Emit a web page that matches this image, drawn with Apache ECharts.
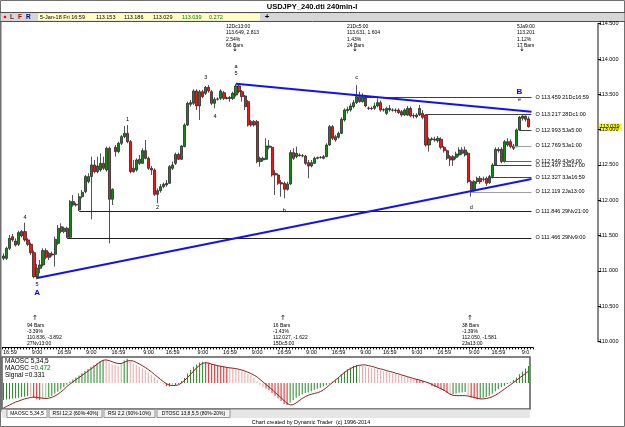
<!DOCTYPE html>
<html>
<head>
<meta charset="utf-8">
<title>USDJPY_240.dti 240min-I</title>
<script src="https://cdn.jsdelivr.net/npm/echarts@6/dist/echarts.min.js"></script>
<style>
  html, body { margin: 0; padding: 0; background: #fff; }
  #chart { width: 625px; height: 427px; }
</style>
</head>
<body>
<div id="chart"></div>
<script>
// 240-minute bars, 27 Nov 2017 .. 5 Jan 2018 (175 bars)
const opens = [
  111.177, 111.177, 111.319, 111.484, 111.422, 111.375, 111.493, 111.555, 111.437, 111.375,
  111.257, 110.917, 111.035, 111.083, 111.286, 111.191, 111.238, 111.234, 111.389, 111.625,
  111.555, 111.602, 111.474, 111.980, 111.932, 111.862, 112.050, 112.121, 112.263, 112.334,
  112.499, 112.404, 112.428, 112.522, 112.428, 112.735, 112.013, 112.749, 112.688, 112.806,
  112.900, 112.947, 112.829, 112.404, 112.428, 112.522, 112.522, 112.702, 112.593, 112.452,
  112.428, 112.083, 112.135, 112.192, 112.216, 112.239, 112.452, 112.522, 112.650, 112.579,
  112.759, 113.065, 113.358, 113.372, 113.547, 113.335, 113.537, 113.514, 113.599, 113.537,
  113.372, 113.429, 113.443, 113.523, 113.443, 113.443, 113.443, 113.490, 113.618, 113.537,
  113.476, 113.396, 113.065, 113.113, 113.113, 112.546, 112.570, 112.579, 112.768, 112.749,
  112.381, 112.357, 112.230, 112.239, 112.154, 112.230, 112.674, 112.617, 112.641, 112.631,
  112.626, 112.532, 112.485, 112.522, 112.593, 112.603, 112.593, 112.617, 112.782, 113.042,
  112.900, 112.891, 112.947, 113.136, 113.268, 113.278, 113.325, 113.382, 113.467, 113.396,
  113.450, 113.301, 113.301, 113.301, 113.335, 113.382, 113.278, 113.231, 113.278, 113.278,
  113.278, 113.278, 113.254, 113.207, 113.207, 113.301, 113.193, 113.183, 113.207, 113.231,
  113.207, 112.782, 112.862, 112.853, 112.843, 112.862, 112.749, 112.702, 112.617, 112.570,
  112.607, 112.641, 112.664, 112.641, 112.664, 112.263, 112.135, 112.263, 112.310, 112.296,
  112.310, 112.249, 112.334, 112.499, 112.702, 112.721, 112.546, 112.782, 112.829, 112.768,
  112.759, 112.995, 113.160, 113.193, 113.153
];
const highs = [
  111.248, 111.342, 111.507, 111.522, 111.460, 111.569, 111.578, 111.682, 111.460, 111.399,
  111.286, 111.097, 111.153, 111.319, 111.319, 111.271, 111.271, 111.484, 111.649, 111.673,
  111.625, 111.625, 112.003, 112.074, 111.965, 112.098, 112.145, 112.357, 112.381, 112.617,
  112.570, 112.617, 112.664, 112.617, 112.759, 112.759, 112.168, 112.782, 112.829, 112.924,
  113.051, 113.065, 112.853, 112.570, 112.593, 112.641, 112.735, 112.853, 112.617, 112.485,
  112.452, 112.168, 112.230, 112.249, 112.286, 112.499, 112.546, 112.674, 112.674, 112.782,
  113.089, 113.396, 113.419, 113.571, 113.571, 113.561, 113.561, 113.618, 113.632, 113.561,
  113.457, 113.457, 113.571, 113.547, 113.467, 113.476, 113.537, 113.649, 113.632, 113.561,
  113.490, 113.419, 113.136, 113.136, 113.136, 112.617, 112.617, 112.877, 112.853, 112.768,
  112.428, 112.381, 112.286, 112.263, 112.263, 112.711, 112.735, 112.759, 112.664, 112.655,
  112.641, 112.570, 112.570, 112.617, 112.617, 112.626, 112.641, 112.806, 113.065, 113.065,
  112.924, 112.971, 113.174, 113.301, 113.325, 113.372, 113.419, 113.631, 113.537, 113.514,
  113.459, 113.325, 113.325, 113.382, 113.443, 113.410, 113.301, 113.325, 113.349, 113.301,
  113.301, 113.301, 113.278, 113.301, 113.335, 113.325, 113.231, 113.231, 113.349, 113.278,
  113.217, 112.891, 112.891, 112.900, 112.910, 112.891, 112.768, 112.721, 112.641, 112.641,
  112.688, 112.749, 112.749, 112.759, 112.688, 112.286, 112.286, 112.334, 112.343, 112.334,
  112.334, 112.357, 112.522, 112.749, 112.749, 112.749, 112.853, 112.877, 112.862, 112.796,
  113.018, 113.193, 113.201, 113.193, 113.186
];
const lows = [
  111.153, 111.153, 111.295, 111.413, 111.342, 111.352, 111.474, 111.413, 111.352, 111.224,
  110.894, 110.880, 110.965, 111.059, 111.163, 111.153, 111.201, 111.059, 111.366, 111.531,
  111.531, 111.465, 111.460, 111.909, 111.909, 111.847, 112.027, 112.098, 112.239, 111.729,
  112.381, 112.381, 112.404, 112.428, 112.404, 111.389, 111.932, 112.617, 112.664, 112.782,
  112.877, 112.806, 112.381, 112.390, 112.404, 112.499, 112.513, 112.579, 112.428, 112.357,
  112.060, 111.956, 112.107, 112.168, 112.192, 112.230, 112.428, 112.499, 112.570, 112.570,
  112.749, 113.051, 113.325, 113.349, 113.278, 113.136, 113.443, 113.490, 113.523, 113.349,
  113.301, 113.410, 113.419, 113.419, 113.429, 113.396, 113.419, 113.467, 113.514, 113.396,
  113.278, 113.042, 113.042, 113.042, 112.522, 112.475, 112.546, 112.570, 112.721, 112.334,
  112.074, 112.216, 112.050, 112.027, 112.135, 112.216, 112.570, 112.593, 112.617, 112.607,
  112.499, 112.310, 112.466, 112.513, 112.579, 112.589, 112.579, 112.607, 112.768, 112.853,
  112.829, 112.872, 112.938, 113.113, 113.231, 113.254, 113.301, 113.363, 113.382, 113.382,
  113.316, 113.278, 113.278, 113.278, 113.316, 113.254, 113.254, 113.207, 113.254, 113.254,
  113.240, 113.221, 113.183, 113.193, 113.193, 113.174, 113.160, 113.160, 113.193, 113.146,
  112.759, 112.688, 112.843, 112.829, 112.815, 112.721, 112.674, 112.570, 112.485, 112.485,
  112.579, 112.617, 112.641, 112.617, 112.239, 112.050, 112.107, 112.230, 112.230, 112.263,
  112.202, 112.230, 112.310, 112.485, 112.674, 112.522, 112.532, 112.759, 112.735, 112.711,
  112.749, 112.985, 113.127, 113.113, 113.029
];
const closes = [
  111.210, 111.319, 111.460, 111.437, 111.366, 111.541, 111.555, 111.437, 111.375, 111.257,
  110.917, 111.035, 111.083, 111.286, 111.191, 111.248, 111.224, 111.446, 111.602, 111.555,
  111.602, 111.474, 111.980, 111.932, 111.942, 112.050, 112.112, 112.334, 112.334, 112.499,
  112.404, 112.485, 112.522, 112.452, 112.735, 112.013, 112.154, 112.688, 112.806, 112.900,
  112.947, 112.829, 112.404, 112.452, 112.570, 112.579, 112.702, 112.593, 112.452, 112.428,
  112.083, 112.135, 112.192, 112.225, 112.239, 112.475, 112.499, 112.650, 112.579, 112.768,
  113.065, 113.372, 113.382, 113.547, 113.335, 113.537, 113.467, 113.599, 113.547, 113.372,
  113.429, 113.434, 113.547, 113.443, 113.448, 113.453, 113.514, 113.618, 113.537, 113.467,
  113.325, 113.065, 113.113, 113.065, 112.546, 112.593, 112.593, 112.768, 112.749, 112.357,
  112.357, 112.239, 112.249, 112.154, 112.230, 112.674, 112.593, 112.664, 112.631, 112.626,
  112.522, 112.485, 112.532, 112.593, 112.603, 112.607, 112.617, 112.782, 113.042, 112.877,
  112.853, 112.947, 113.146, 113.278, 113.287, 113.335, 113.382, 113.467, 113.396, 113.467,
  113.335, 113.306, 113.298, 113.335, 113.382, 113.278, 113.283, 113.301, 113.301, 113.275,
  113.268, 113.240, 113.207, 113.278, 113.301, 113.193, 113.198, 113.207, 113.301, 113.174,
  112.782, 112.862, 112.867, 112.858, 112.877, 112.749, 112.702, 112.593, 112.570, 112.617,
  112.655, 112.711, 112.711, 112.711, 112.263, 112.135, 112.263, 112.310, 112.263, 112.301,
  112.239, 112.334, 112.499, 112.721, 112.721, 112.546, 112.829, 112.829, 112.759, 112.735,
  112.995, 113.174, 113.193, 113.146, 113.039
];

// MAOSC 5,34,5 histogram and its signal line
const maosc = [
  -0.47, -0.46, -0.45, -0.43, -0.42, -0.41, -0.39, -0.38, -0.36, -0.37,
  -0.41, -0.45, -0.47, -0.46, -0.43, -0.39, -0.35, -0.30, -0.24, -0.18,
  -0.12, -0.05, 0.04, 0.10, 0.15, 0.21, 0.27, 0.33, 0.39, 0.45,
  0.50, 0.55, 0.60, 0.64, 0.62, 0.56, 0.52, 0.50, 0.48, 0.53,
  0.62, 0.67, 0.60, 0.54, 0.49, 0.44, 0.40, 0.35, 0.29, 0.23,
  0.15, 0.08, 0.02, -0.04, -0.08, -0.10, -0.09, -0.06, -0.02, 0.05,
  0.14, 0.26, 0.36, 0.45, 0.51, 0.57, 0.59, 0.58, 0.56, 0.53,
  0.51, 0.49, 0.48, 0.46, 0.44, 0.42, 0.41, 0.39, 0.37, 0.34,
  0.30, 0.25, 0.20, 0.14, 0.05, -0.05, -0.11, -0.15, -0.20, -0.28,
  -0.35, -0.42, -0.50, -0.58, -0.61, -0.55, -0.48, -0.41, -0.35, -0.31,
  -0.28, -0.26, -0.23, -0.19, -0.16, -0.13, -0.10, -0.06, -0.02, 0.04,
  0.09, 0.16, 0.24, 0.32, 0.38, 0.43, 0.47, 0.50, 0.49, 0.47,
  0.45, 0.43, 0.41, 0.40, 0.38, 0.35, 0.33, 0.31, 0.29, 0.27,
  0.25, 0.23, 0.20, 0.19, 0.17, 0.14, 0.12, 0.11, 0.09, 0.06,
  0.01, -0.05, -0.08, -0.11, -0.13, -0.17, -0.22, -0.27, -0.31, -0.31,
  -0.29, -0.27, -0.26, -0.25, -0.33, -0.40, -0.43, -0.45, -0.43, -0.41,
  -0.39, -0.35, -0.30, -0.23, -0.17, -0.12, -0.08, -0.03, 0.02, 0.08,
  0.15, 0.24, 0.32, 0.40, 0.472
];
const signal = [
  -0.69, -0.65, -0.61, -0.57, -0.53, -0.50, -0.47, -0.44, -0.42, -0.40,
  -0.39, -0.40, -0.41, -0.42, -0.43, -0.42, -0.40, -0.36, -0.31, -0.25,
  -0.18, -0.10, -0.03, 0.03, 0.09, 0.15, 0.21, 0.27, 0.33, 0.39,
  0.45, 0.52, 0.58, 0.63, 0.64, 0.62, 0.59, 0.56, 0.54, 0.54,
  0.57, 0.61, 0.62, 0.61, 0.57, 0.53, 0.48, 0.43, 0.37, 0.31,
  0.24, 0.17, 0.10, 0.04, -0.02, -0.06, -0.07, -0.07, -0.05, 0.00,
  0.07, 0.15, 0.24, 0.33, 0.42, 0.49, 0.55, 0.56, 0.55, 0.52,
  0.50, 0.48, 0.46, 0.45, 0.43, 0.42, 0.41, 0.40, 0.38, 0.36,
  0.33, 0.30, 0.26, 0.22, 0.17, 0.10, 0.03, -0.04, -0.11, -0.18,
  -0.26, -0.33, -0.41, -0.49, -0.56, -0.61, -0.60, -0.55, -0.49, -0.43,
  -0.38, -0.34, -0.31, -0.29, -0.27, -0.24, -0.19, -0.13, -0.06, 0.01,
  0.08, 0.15, 0.22, 0.29, 0.35, 0.40, 0.44, 0.47, 0.49, 0.50,
  0.50, 0.48, 0.46, 0.44, 0.41, 0.39, 0.37, 0.34, 0.32, 0.30,
  0.27, 0.25, 0.22, 0.20, 0.17, 0.15, 0.12, 0.10, 0.08, 0.05,
  0.03, 0.00, -0.04, -0.08, -0.12, -0.16, -0.20, -0.25, -0.31, -0.34,
  -0.35, -0.35, -0.35, -0.35, -0.36, -0.38, -0.40, -0.42, -0.44, -0.44,
  -0.43, -0.41, -0.38, -0.34, -0.29, -0.23, -0.17, -0.11, -0.05, 0.01,
  0.07, 0.14, 0.20, 0.26, 0.331
];

// time axis labels (bar index -> text)
const timeTickIdx = [2, 11, 20, 29, 38, 48, 56, 66, 75, 84, 93, 102, 111, 120, 128, 137, 146, 156, 164, 173];
const timeTickText = ['16:59', '9:00', '16:59', '9:00', '16:59', '9:00', '16:59', '9:00', '16:59', '9:00',
  '16:59', '9:00', '16:59', '9:00', '16:59', '9:00', '16:59', '9:00', '16:59', '9:0'];

// horizontal levels: price, first bar, date tag
const levelPrices = [113.459, 113.217, 112.993, 112.769, 112.549, 112.497, 112.327, 112.119, 111.846, 111.466];
const levelStart = [119, 140, 171, 169, 166, 162, 161, 155, 25, 21];
const levelTags = ['21Dc16:59', '28Dc1:00', '5Ja5:00', '5Ja1:00', '4Ja9:00', '3Ja17:00', '3Ja16:59', '2Ja13:00', '29Nv21:00', '29Nv9:00'];

// blue trend lines: [barIndex, price] end points
const upperTrend = [[77, 113.649], [175, 113.254]];
const lowerTrend = [[11, 110.898], [175, 112.300]];

// wave labels: text, bar index, price
const waveText = ['4', '5', 'A', '1', '2', '3', '4', 'a', '5', 'b', 'c', 'd', 'B', 'e'];
const waveBar = [7, 11, 11, 41, 51, 67, 70, 77, 77, 93, 117, 155, 171, 171];
const wavePrice = [111.76, 110.81, 110.69, 113.14, 111.90, 113.745, 113.19, 113.90, 113.80, 111.86, 113.745, 111.90, 113.53, 113.42];

// swing annotations
const topNotes = [
  ['12Dc13:00', '113.649, 2.813', '2.54%', '66 Bars'],
  ['21Dc5:00', '113.631, 1.604', '1.43%', '24 Bars'],
  ['5Ja9:00', '113.201', '1.12%', '17 Bars']
];
const bottomNotes = [
  ['94 Bars', '-3.39%', '110.836, -3.892', '27Nv13:00'],
  ['16 Bars', '-1.43%', '112.027, -1.622', '15Dc5:00'],
  ['38 Bars', '-1.39%', '112.050, -1.581', '2Ja13:00']
];
const infoText = ['5-Jan-18 Fri 16:59', '113.153', '113.186', '113.029', '113.039', '0.272'];
const tabNames = ['MAOSC 5,34,5', 'RSI 12,2 (60%-40%)', 'RSI 2,2 (90%-10%)', 'DTOSC 13,8,5,5 (80%-20%)'];

const FONT = '"Liberation Sans", Arial, sans-serif';
const SLOTS = 176;
const cats = [];
for (let i = 0; i < SLOTS; i++) cats.push(String(i));

const candles = opens.map((o, i) => [o, closes[i], lows[i], highs[i]]);

// green when the oscillator rises, red when it falls; pale when it sits on the weak side of the signal
function histColor(i) {
  const v = maosc[i];
  const s = signal[i];
  const prev = i > 0 ? maosc[i - 1] : v;
  if (v >= prev) return v > s ? '#1f8a1f' : '#93c893';
  const strong = v >= 0 ? v > s : (v < s && s < 0);
  return strong ? '#f01818' : '#f7a0a0';
}

const levelShade = ['#404040', '#404040', '#404040', '#a0a0a0', '#606060', '#404040', '#404040', '#a0a0a0', '#202020', '#202020'];

const markLines = levelPrices.map((p, i) => [
  {
    coord: [levelStart[i], p],
    lineStyle: { color: levelShade[i], width: 1, type: 'solid' },
    label: {
      show: true, position: 'end', distance: 4,
      formatter: 'O ' + p.toFixed(3) + ' ' + levelTags[i],
      fontSize: 5.5, color: '#000', fontFamily: FONT
    }
  },
  { coord: [SLOTS - 1, p] }
]);
[upperTrend, lowerTrend].forEach(t => {
  markLines.push([
    { coord: t[0], lineStyle: { color: '#1010ff', width: 2, type: 'solid' }, label: { show: false } },
    { coord: t[1] }
  ]);
});

const markPoints = waveText.map((t, i) => {
  const big = t === 'A' || t === 'B';
  return {
    name: t,
    coord: [waveBar[i], wavePrice[i]],
    label: {
      show: true, formatter: t, position: 'inside',
      fontSize: big ? 8 : 5.5, fontWeight: big ? 'bold' : 'normal',
      color: big ? '#0000ff' : '#000', fontFamily: FONT
    }
  };
});
markPoints.push({
  name: 'mark', coord: [152, 112.711],
  label: { show: true, formatter: '+', position: 'inside', fontSize: 6, color: '#ff00ff' }
});

const chart = echarts.init(document.getElementById('chart'));

const option = {
  animation: false,
  backgroundColor: '#ffffff',
  textStyle: { fontFamily: FONT },
  grid: [
    { left: 2, width: 531, top: 23.7, height: 317.7 },
    { left: 2, width: 531, top: 357, height: 52 }
  ],
  xAxis: [
    {
      type: 'category', gridIndex: 0, data: cats, boundaryGap: true,
      position: 'bottom', offset: 6,
      axisLine: { show: true, lineStyle: { color: '#000', width: 1 } },
      axisTick: { show: true, interval: 0, length: 2, lineStyle: { color: '#000' } },
      axisLabel: {
        interval: idx => timeTickIdx.indexOf(idx) >= 0,
        formatter: (v, idx) => {
          const k = timeTickIdx.indexOf(idx);
          return k >= 0 ? timeTickText[k] : '';
        },
        fontSize: 5.5, color: '#000', margin: 2, fontFamily: FONT
      },
      splitLine: { show: false }
    },
    {
      type: 'category', gridIndex: 1, data: cats, boundaryGap: true, show: false
    }
  ],
  yAxis: [
    {
      type: 'value', gridIndex: 0, min: 110, max: 114.5, interval: 0.5,
      position: 'right', offset: 65,
      axisLine: { show: true, lineStyle: { color: '#8a8a8a', width: 2 } },
      axisTick: { show: true, length: 3, lineStyle: { color: '#000' } },
      axisLabel: { formatter: v => v.toFixed(3), fontSize: 5.5, color: '#000', margin: 1, fontFamily: FONT },
      splitLine: { show: false }
    },
    {
      type: 'value', gridIndex: 1, min: -0.72, max: 0.72, show: false,
      splitLine: { show: false }
    }
  ],
  series: [
    {
      name: 'USDJPY', type: 'candlestick', xAxisIndex: 0, yAxisIndex: 0,
      data: candles, barWidth: 2.6,
      itemStyle: {
        color: '#138a13', color0: '#ff1010',
        borderColor: '#2a2a2a', borderColor0: '#2a2a2a', borderWidth: 0.8
      },
      markLine: { symbol: ['none', 'none'], silent: true, animation: false, data: markLines },
      markPoint: {
        symbol: 'circle', symbolSize: 1, silent: true, animation: false,
        itemStyle: { color: 'rgba(0,0,0,0)' },
        data: markPoints
      }
    },
    {
      name: 'MAOSC', type: 'bar', xAxisIndex: 1, yAxisIndex: 1, barWidth: 1,
      data: maosc.map((v, i) => ({ value: v, itemStyle: { color: histColor(i) } }))
    },
    {
      name: 'Signal', type: 'line', xAxisIndex: 1, yAxisIndex: 1,
      data: signal, symbol: 'none', smooth: false,
      lineStyle: { color: '#8b2323', width: 1 }
    }
  ]
};

chart.setOption(option);

// frame, toolbar, notes and footer
function noteBlock(lines, x, y, arrow, ax, ay) {
  return [
    {
      type: 'text', x: x, y: y,
      style: { text: lines.join('\n'), font: '5px ' + FONT, fill: '#000', lineHeight: 6.3, textVerticalAlign: 'top' }
    },
    {
      type: 'text', x: ax, y: ay,
      style: { text: arrow, font: '7px "DejaVu Sans"', fill: '#000', textAlign: 'center', textVerticalAlign: 'middle' }
    }
  ];
}

const lastY = chart.convertToPixel({ yAxisIndex: 0 }, closes[closes.length - 1]);
const infoX = [40, 96, 124, 153, 182, 209];
const tabX = [[7, 47], [49, 102], [104, 155], [157, 230]];

const graphics = [
  { type: 'rect', shape: { x: 0.5, y: 0.5, width: 624, height: 426 }, style: { fill: 'none', stroke: '#707070', lineWidth: 1 } },
  { type: 'text', x: 312, y: 7, style: { text: 'USDJPY_240.dti 240min-I', font: 'bold 7.5px ' + FONT, fill: '#000', textAlign: 'center', textVerticalAlign: 'middle' } },
  { type: 'rect', shape: { x: 0, y: 12.5, width: 625, height: 9 }, style: { fill: '#d6d6d6', stroke: '#505050', lineWidth: 1 } },
  { type: 'rect', shape: { x: 38, y: 13.5, width: 222, height: 7 }, style: { fill: '#ffffc6' } },
  { type: 'circle', shape: { cx: 5, cy: 17, r: 1.3 }, style: { fill: '#ff0000' } },
  { type: 'text', x: 10, y: 17, style: { text: 'L', font: 'bold 6.5px ' + FONT, fill: '#802000', textVerticalAlign: 'middle' } },
  { type: 'text', x: 18, y: 17, style: { text: 'F', font: 'bold 6.5px ' + FONT, fill: '#a01010', textVerticalAlign: 'middle' } },
  { type: 'text', x: 26, y: 17, style: { text: 'R', font: 'bold 6.5px ' + FONT, fill: '#000080', textVerticalAlign: 'middle' } },
  { type: 'text', x: 267, y: 17, style: { text: '+', font: 'bold 8px ' + FONT, fill: '#000', textAlign: 'center', textVerticalAlign: 'middle' } },
  { type: 'rect', shape: { x: 0, y: 22, width: 1.5, height: 390 }, style: { fill: '#707070' } },
  // current price tag
  { type: 'rect', shape: { x: 599, y: lastY - 3.5, width: 23, height: 7 }, style: { fill: '#ffff00' } },
  { type: 'text', x: 600, y: lastY, style: { text: closes[closes.length - 1].toFixed(3), font: '5.5px ' + FONT, fill: '#000', textVerticalAlign: 'middle' } },
  // oscillator panel
  { type: 'rect', shape: { x: 2, y: 357, width: 528, height: 52 }, style: { fill: 'none', stroke: '#5a5a5a', lineWidth: 1.5 } },
  { type: 'text', x: 5, y: 361, style: { text: 'MAOSC 5,34,5', font: '6.5px ' + FONT, fill: '#000', textVerticalAlign: 'middle' } },
  {
    type: 'text', x: 5, y: 368,
    style: {
      text: '{k|MAOSC =}{g|' + maosc[maosc.length - 1].toFixed(3) + '}',
      rich: { k: { font: '6.5px ' + FONT, fill: '#000' }, g: { font: '6.5px ' + FONT, fill: '#008000' } },
      textVerticalAlign: 'middle'
    }
  },
  { type: 'text', x: 5, y: 375, style: { text: 'Signal =' + signal[signal.length - 1].toFixed(3), font: '6.5px ' + FONT, fill: '#000', textVerticalAlign: 'middle' } },
  { type: 'rect', shape: { x: 2, y: 409.5, width: 528, height: 8.5 }, style: { fill: '#e6e6e6' } },
  { type: 'text', x: 311, y: 422, style: { text: 'Chart created by Dynamic Trader  (c) 1996-2014', font: '5.5px ' + FONT, fill: '#000', textAlign: 'center', textVerticalAlign: 'middle' } }
];

infoText.forEach((t, i) => {
  graphics.push({
    type: 'text', x: infoX[i], y: 17.2,
    style: { text: t, font: '5.5px ' + FONT, fill: i >= 4 ? '#008000' : '#000', textVerticalAlign: 'middle' }
  });
});

tabNames.forEach((t, i) => {
  const [a, b] = tabX[i];
  graphics.push({
    type: 'rect', shape: { x: a, y: 409.5, width: b - a, height: 8 },
    style: { fill: i === 0 ? '#ffffff' : '#f2f2f2', stroke: '#808080', lineWidth: 0.8 }
  });
  graphics.push({
    type: 'text', x: (a + b) / 2, y: 413.6,
    style: { text: t, font: '5px ' + FONT, fill: '#000', textAlign: 'center', textVerticalAlign: 'middle' }
  });
});

const topX = [[226, 235], [347, 355], [517, 522]];
topNotes.forEach((n, i) => {
  graphics.push(...noteBlock(n, topX[i][0], 23.5, '↓', topX[i][1], 49));
});
const botX = [[27, 35], [273, 283], [462, 470]];
bottomNotes.forEach((n, i) => {
  graphics.push(...noteBlock(n, botX[i][0], 322, '↑', botX[i][1], 318.5));
});

chart.setOption({ graphic: graphics });
</script>
</body>
</html>
